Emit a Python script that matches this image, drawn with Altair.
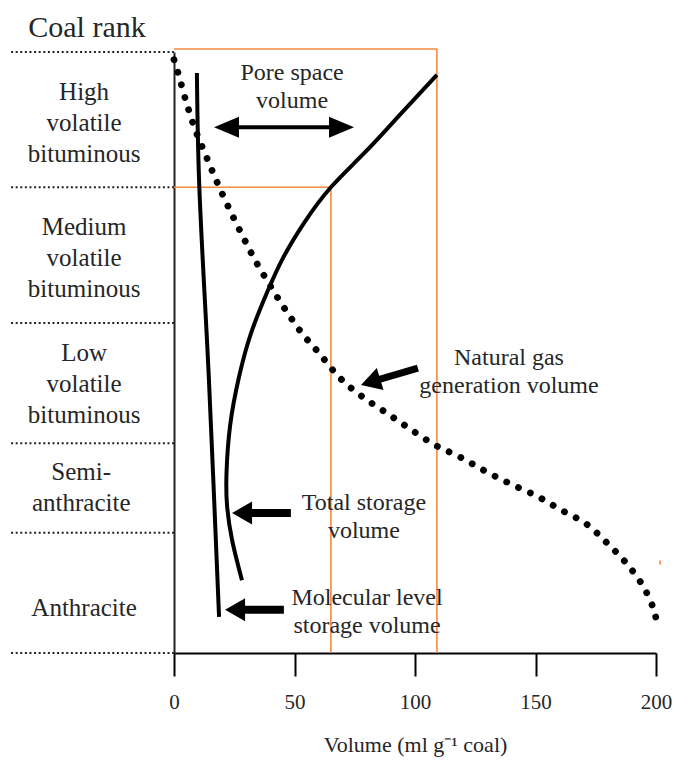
import altair as alt
import pandas as pd

# ---------------- data (x: volume ml/g, y: relative rank position 0-100) ----------------
rank_bounds = [0.0, 20.0, 34.9, 54.9, 77.5, 100.0]
rank_names = ["Anthracite", "Semi-|anthracite", "Low|volatile|bituminous",
              "Medium|volatile|bituminous", "High|volatile|bituminous"]
rank_label_y = [7.5, 30.1, 49.9, 70.9, 93.3]
rank_label_x = [-37.3, -38.5, -37.3, -37.3, -37.3]
rank_line_start = -67.6

gas_x = [0.0, 1.7, 5.0, 8.7, 13.3, 17.8, 22.8, 28.2, 33.6, 39.8, 46.1, 53.1, 60.2,
         68.5, 77.6, 87.6, 97.5, 108.3, 118.7, 129.0, 139.8, 150.6, 160.6, 171.0,
         179.7, 188.4, 195.4, 199.6, 200.4]
gas_y = [98.7, 96.5, 91.8, 87.2, 82.7, 78.4, 74.0, 69.6, 65.4, 61.2, 57.2, 53.2, 49.9,
         45.9, 42.8, 40.1, 37.4, 34.6, 32.6, 30.3, 28.1, 26.1, 23.8, 21.5,
         18.3, 14.6, 10.6, 6.5, 4.2]

total_x = [109.1, 93.6, 79.0, 65.1, 54.2, 45.2, 38.2, 31.7, 26.9, 23.3, 21.8, 22.0, 24.1, 28.2]
total_y = [96.2, 89.5, 83.2, 77.5, 71.7, 65.7, 59.6, 52.9, 45.8, 37.9, 30.1, 24.6, 18.8, 12.1]

mol_x = [9.5, 10.4, 14.5, 18.7]
mol_y = [96.5, 78.7, 45.4, 6.0]

orange_x = [0.0, 109.1, 0.0, 65.1, 201.7]
orange_y = [100.5, 100.5, 77.5, 77.5, 14.7]
orange_x2 = [109.1, 109.1, 65.1, 65.1, 201.7]
orange_y2 = [100.5, 0.0, 77.5, 0.0, 15.4]

head_x = [16.6, 74.7, 77.6, 24.1, 21.2]
head_y = [87.5, 87.5, 44.6, 23.3, 7.2]
head_angle = [0, 180, 343, 0, 0]
head_shape = ["M0,0L2.5,-1.05L2.5,1.05Z", "M0,0L2.5,-1.05L2.5,1.05Z",
              "M0,0L2,-1.15L2,1.15Z", "M0,0L2,-1.15L2,1.15Z", "M0,0L2,-1.15L2,1.15Z"]

shaft_x = [20.7, 101.2, 29.0, 26.1]
shaft_y = [87.5, 47.4, 23.3, 7.2]
shaft_x2 = [70.5, 81.7, 48.5, 45.6]
shaft_y2 = [87.5, 45.1, 23.3, 7.2]
shaft_w = [4, 7, 8, 8]

ann_text = ["Pore space|volume", "Natural gas|generation volume",
            "Total storage|volume", "Molecular level|storage volume"]
ann_x = [49.0, 139.0, 78.8, 80.1]
ann_y = [96.5, 49.1, 25.0, 9.2]

title_text = ["Coal rank"]
title_x = [-36.1]
title_y = [104.0]

x_ticks = [0, 50, 100, 150, 200]

# ---------------- encodings ----------------
FONT = "Liberation Serif"
TXT = "#262626"
xs = alt.Scale(domain=[0, 200], nice=False, zero=False)
ys = alt.Scale(domain=[0, 100], nice=False, zero=False)
x_axis = alt.Axis(values=x_ticks, grid=False, domainColor="black", domainWidth=2,
                  tickColor="black", tickWidth=2, tickSize=23,
                  labelFont=FONT, labelFontSize=21, labelColor=TXT, labelPadding=15,
                  labelFlush=False, titleFont=FONT, titleFontSize=22,
                  titleFontWeight="normal", titleColor=TXT, titlePadding=22,
                  title="Volume (ml g\u207b\u00b9 coal)")
y_axis = alt.Axis(grid=False, domainColor="#222", domainWidth=2, ticks=False,
                  labels=False, title=None)


def X(f):
    return alt.X(f, type="quantitative", scale=xs, axis=x_axis)


def Y(f):
    return alt.Y(f, type="quantitative", scale=ys, axis=y_axis)


# ---------------- layers ----------------
rank_df = pd.DataFrame({"y": rank_bounds, "x": [rank_line_start] * len(rank_bounds),
                        "x2": [0.0] * len(rank_bounds)})
rank_lines = alt.Chart(rank_df).mark_rule(color="#222", strokeWidth=2,
                                          strokeDash=[2, 2.6]).encode(
    x=X("x"), x2=alt.X2("x2"), y=Y("y"))

rank_lab_df = pd.DataFrame({"t": rank_names, "x": rank_label_x, "y": rank_label_y})
rank_labels = alt.Chart(rank_lab_df).mark_text(
    font=FONT, fontSize=25, lineHeight=31, lineBreak="|", align="center",
    baseline="middle", color=TXT).encode(x=X("x"), y=Y("y"), text="t:N")

title_df = pd.DataFrame({"t": title_text, "x": title_x, "y": title_y})
title_layer = alt.Chart(title_df).mark_text(
    font=FONT, fontSize=30, align="center", baseline="middle", color=TXT).encode(
    x=X("x"), y=Y("y"), text="t:N")

or_df = pd.DataFrame({"x": orange_x, "y": orange_y, "x2": orange_x2, "y2": orange_y2})
orange = alt.Chart(or_df).mark_rule(color="#F5893D", strokeWidth=1.6).encode(
    x=X("x"), x2=alt.X2("x2"), y=Y("y"), y2=alt.Y2("y2"))

gas_df = pd.DataFrame({"x": gas_x, "y": gas_y, "i": range(len(gas_x))})
gas = alt.Chart(gas_df).mark_line(color="black", strokeWidth=6.8, strokeCap="round",
                                  strokeDash=[0.01, 13], interpolate="catmull-rom").encode(
    x=X("x"), y=Y("y"), order="i:Q")

tot_df = pd.DataFrame({"x": total_x, "y": total_y, "i": range(len(total_x))})
total = alt.Chart(tot_df).mark_line(color="black", strokeWidth=4,
                                    interpolate="natural").encode(
    x=X("x"), y=Y("y"), order="i:Q")

mol_df = pd.DataFrame({"x": mol_x, "y": mol_y, "i": range(len(mol_x))})
mol = alt.Chart(mol_df).mark_line(color="black", strokeWidth=4,
                                  interpolate="catmull-rom").encode(
    x=X("x"), y=Y("y"), order="i:Q")

sh_df = pd.DataFrame({"x": shaft_x, "y": shaft_y, "x2": shaft_x2, "y2": shaft_y2, "w": shaft_w})
shafts = alt.Chart(sh_df).mark_rule(color="black").encode(
    x=X("x"), x2=alt.X2("x2"), y=Y("y"), y2=alt.Y2("y2"),
    strokeWidth=alt.StrokeWidth("w:Q", scale=None))

hd_df = pd.DataFrame({"x": head_x, "y": head_y, "a": head_angle, "s": head_shape})
heads = alt.Chart(hd_df).mark_point(filled=True, color="black", opacity=1,
                                    size=400, strokeWidth=0).encode(
    x=X("x"), y=Y("y"), angle=alt.Angle("a:Q", scale=None),
    shape=alt.Shape("s:N", scale=None))

ann_df = pd.DataFrame({"t": ann_text, "x": ann_x, "y": ann_y})
ann = alt.Chart(ann_df).mark_text(
    font=FONT, fontSize=24, lineHeight=28, lineBreak="|", align="center",
    baseline="middle", color=TXT).encode(x=X("x"), y=Y("y"), text="t:N")

chart = alt.layer(orange, rank_lines, rank_labels, title_layer, gas, total, mol,
                  shafts, heads, ann).properties(
    width=482, height=601,
    autosize=alt.AutoSizeParams(type="none"),
    padding={"left": 166, "top": 44, "right": 16, "bottom": 112},
).configure_view(stroke=None)

chart.save("out.html", embed_options={"renderer": "svg", "actions": False})
